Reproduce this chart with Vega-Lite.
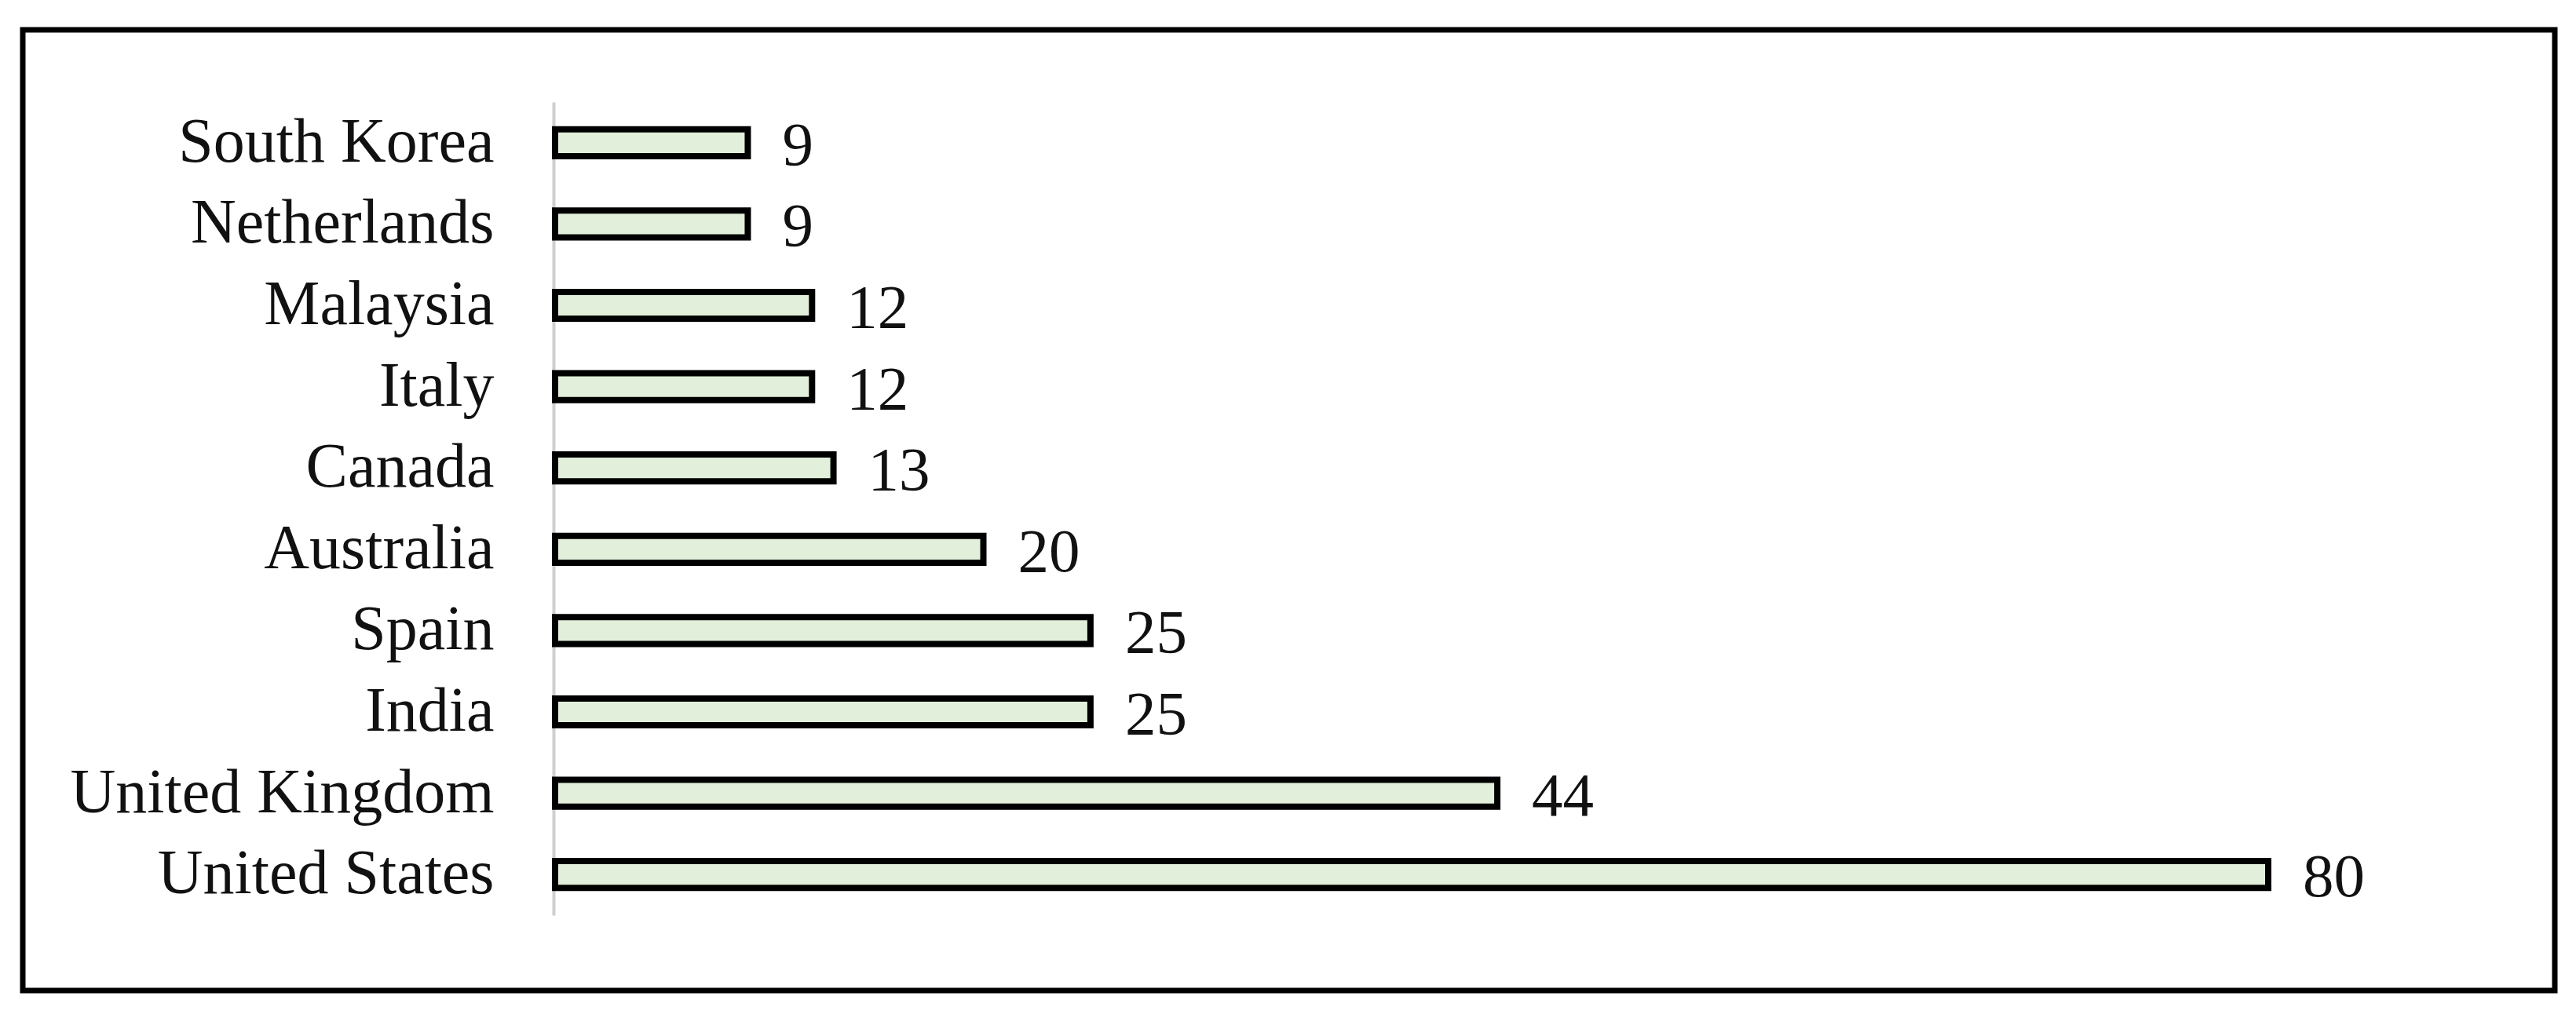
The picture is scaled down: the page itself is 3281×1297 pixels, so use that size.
{
  "$schema": "https://vega.github.io/schema/vega-lite/v6.json",
  "width": 3225,
  "height": 1224,
  "autosize": {"type": "none"},
  "padding": {"left": 29, "top": 38, "right": 27, "bottom": 35},
  "background": "white",
  "config": {
    "view": {"stroke": "#000000", "strokeWidth": 7, "fill": "white"},
    "text": {"font": "Liberation Serif"}
  },
  "data": {
    "values": [
      {"country": "South Korea", "count": 9},
      {"country": "Netherlands", "count": 9},
      {"country": "Malaysia", "count": 12},
      {"country": "Italy", "count": 12},
      {"country": "Canada", "count": 13},
      {"country": "Australia", "count": 20},
      {"country": "Spain", "count": 25},
      {"country": "India", "count": 25},
      {"country": "United Kingdom", "count": 44},
      {"country": "United States", "count": 80}
    ]
  },
  "encoding": {
    "y": {
      "field": "country",
      "type": "nominal",
      "sort": null,
      "scale": {"range": [92, 1128], "paddingInner": 0.67, "paddingOuter": 0.335},
      "axis": {
        "title": null,
        "orient": "left",
        "offset": -676,
        "ticks": false,
        "domainColor": "#CFCFCF",
        "domainWidth": 4,
        "labelFont": "Liberation Serif",
        "labelFontSize": 80,
        "labelColor": "#111111",
        "labelPadding": 76,
        "labelLimit": 1000
      }
    }
  },
  "layer": [
    {
      "mark": {"type": "bar", "fill": "#E2EFDA", "stroke": "#000000", "strokeWidth": 8},
      "encoding": {
        "x": {
          "field": "count",
          "type": "quantitative",
          "scale": {"domain": [0, 80], "range": [678, 2860]},
          "axis": null
        },
        "x2": {"datum": 0}
      }
    },
    {
      "mark": {"type": "text", "align": "left", "baseline": "middle", "dx": 44, "dy": 4, "fontSize": 79, "color": "#111111", "font": "Liberation Serif"},
      "encoding": {
        "x": {"field": "count", "type": "quantitative"},
        "text": {"field": "count", "type": "quantitative"}
      }
    }
  ]
}
